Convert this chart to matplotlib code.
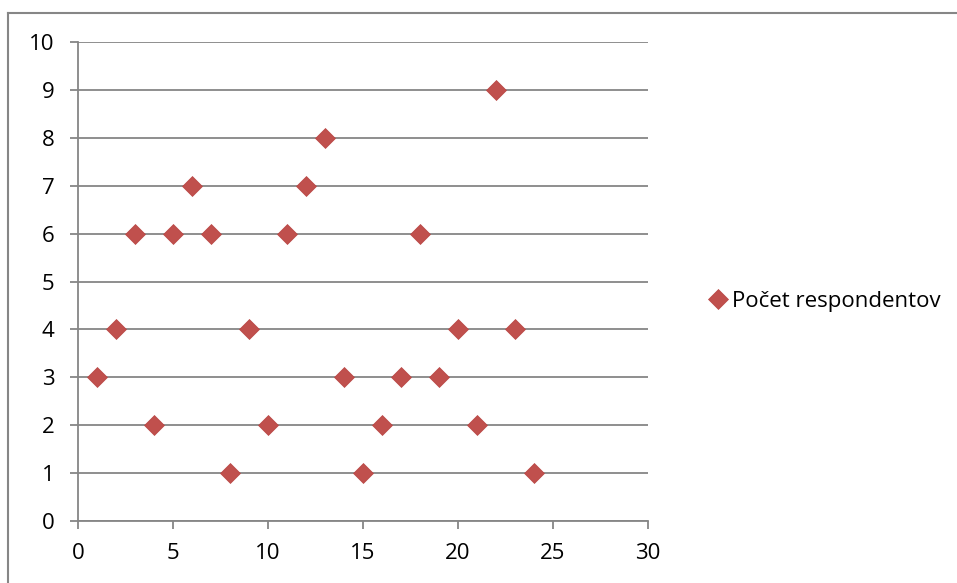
import matplotlib.pyplot as plt
from matplotlib.lines import Line2D

# data
x = [1, 2, 3, 4, 5, 6, 7, 8, 9, 10, 11, 12, 13, 14, 15, 16, 17, 18, 19, 20, 21, 22, 23, 24]
y = [3, 4, 6, 2, 6, 7, 6, 1, 4, 2, 6, 7, 8, 3, 1, 2, 3, 6, 3, 4, 2, 9, 4, 1]
label = 'Počet respondentov'

plt.rcParams['font.family'] = ['Open Sans', 'DejaVu Sans']
W, H = 957, 583
fig = plt.figure(figsize=(W / 100, H / 100), dpi=100)
ax = fig.add_axes([78 / W, 1 - 521 / H, (648 - 78) / W, (521 - 42) / H])

grey = '#868686'
red = '#C0504D'
ax.plot(x, y, linestyle='none', marker='D', ms=10.5, color=red,
        markeredgecolor='#B84643', markeredgewidth=0.5, label=label, zorder=3, clip_on=False)

ax.set_xlim(0, 30)
ax.set_ylim(0, 10)
ax.set_xticks(range(0, 31, 5))
ax.set_yticks(range(0, 11))
ax.yaxis.grid(True, color=grey, linewidth=1.3)
ax.set_axisbelow(True)
for s in ['top', 'right']:
    ax.spines[s].set_visible(False)
for s in ['left', 'bottom']:
    ax.spines[s].set_color(grey)
    ax.spines[s].set_linewidth(1.3)
ax.tick_params(colors=grey, labelcolor='black', labelsize=16, length=6, width=1.3)
ax.tick_params(axis='x', pad=10)
ax.tick_params(axis='y', pad=11)

# legend
fig.legend(handles=[Line2D([], [], linestyle='none', marker='D', ms=10.5, color=red,
                           markeredgecolor='#B84643', markeredgewidth=0.5)],
           labels=[label], loc='center left', bbox_to_anchor=(699 / W, 1 - 301 / H),
           frameon=False, fontsize=16, handlelength=0.9, handletextpad=0.2, borderaxespad=0)

# chart border (top and left visible)
fig.add_artist(Line2D([8 / W, 8 / W], [0, 1 - 13 / H], color=grey, lw=1.5))
fig.add_artist(Line2D([8 / W, 1], [1 - 13 / H, 1 - 13 / H], color=grey, lw=1.5))

fig.savefig('out.png', dpi=100)
